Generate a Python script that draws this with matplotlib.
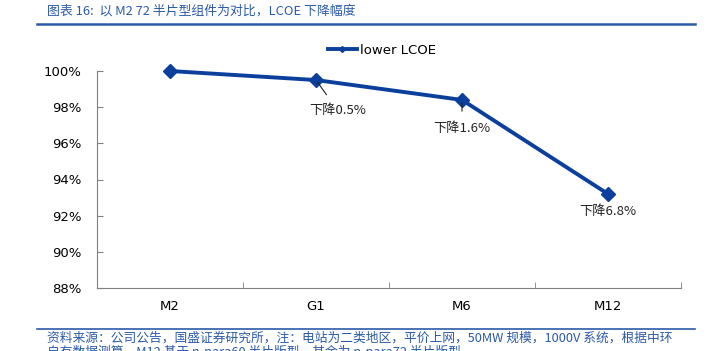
import matplotlib
matplotlib.use("Agg")
import matplotlib.pyplot as plt
from matplotlib.lines import Line2D
from matplotlib.ticker import FuncFormatter, FixedLocator

plt.rcParams['font.family'] = ['DejaVu Sans', 'Noto Sans CJK SC']

categories = ["M2", "G1", "M6", "M12"]
lcoe = [100.0, 99.5, 98.4, 93.2]
notes = {1: "下降0.5%", 2: "下降1.6%", 3: "下降6.8%"}

BLUE = "#0a3f9c"
TITLE_BLUE = "#2b5aa8"
CJK = ['Noto Sans CJK SC', 'DejaVu Sans']

fig = plt.figure(figsize=(7.11, 3.51), dpi=100)
ax = fig.add_axes([97 / 711, 1 - 288 / 351, 584 / 711, 217 / 351])

x = list(range(len(categories)))
ax.plot(x, lcoe, color=BLUE, lw=2.8, marker="D", ms=7, zorder=3, clip_on=False)

ax.set_xlim(-0.5, len(categories) - 0.5)
ax.set_ylim(88, 100)
ax.yaxis.set_major_locator(FixedLocator([88, 90, 92, 94, 96, 98, 100]))
ax.yaxis.set_major_formatter(FuncFormatter(lambda v, p: f"{v:.0f}%"))
ax.set_xticks(x)
ax.set_xticklabels(categories)
ax.xaxis.set_minor_locator(FixedLocator([i - 0.5 for i in range(len(categories) + 1)]))
ax.tick_params(axis="x", which="major", length=0, pad=9, labelsize=9.5)
ax.tick_params(axis="x", which="minor", length=4, direction="in", color="#808080")
ax.tick_params(axis="y", length=4, direction="in", color="#808080", labelsize=9.5, pad=11)
for s in ["top", "right"]:
    ax.spines[s].set_visible(False)
for s in ["left", "bottom"]:
    ax.spines[s].set_color("#808080")
    ax.spines[s].set_linewidth(0.8)

# annotations
ax.annotate(notes[1], xy=(x[1], lcoe[1]), xytext=(x[1] + 0.15, lcoe[1] - 1.7),
            ha="center", va="center", fontsize=9.5, color="#222222", family=CJK,
            arrowprops=dict(arrowstyle="-", color="#222222", lw=0.8, shrinkA=6, shrinkB=2))
ax.annotate(notes[2], xy=(x[2], lcoe[2]), xytext=(x[2], lcoe[2] - 1.6),
            ha="center", va="center", fontsize=9.5, color="#222222", family=CJK,
            arrowprops=dict(arrowstyle="-", color="#222222", lw=0.8, shrinkA=6, shrinkB=2))
ax.annotate(notes[3], xy=(x[3], lcoe[3]), xytext=(x[3], lcoe[3] - 0.95),
            ha="center", va="center", fontsize=9.5, color="#222222", family=CJK)

handle = Line2D([], [], color=BLUE, lw=2.8, marker="D", ms=3)
fig.legend([handle], ["lower LCOE"], loc="center", bbox_to_anchor=(382 / 711, 1 - 50 / 351),
           frameon=False, fontsize=9.5, handlelength=2.2, handletextpad=0.3)

# title and footnote
fig.text(47 / 711, 1 - 11 / 351, "图表 16:  以 M2 72 半片型组件为对比，LCOE 下降幅度",
         fontsize=9.3, color=TITLE_BLUE, style="italic", va="center", family=CJK)
fig.add_artist(Line2D([37 / 711, 695 / 711], [1 - 24 / 351, 1 - 24 / 351], color=TITLE_BLUE, lw=1.8))
fig.add_artist(Line2D([37 / 711, 695 / 711], [1 - 329 / 351, 1 - 329 / 351], color=TITLE_BLUE, lw=1.2))
fig.text(47 / 711, 1 - 338 / 351,
         "资料来源：公司公告，国盛证券研究所，注：电站为二类地区，平价上网，50MW 规模，1000V 系统，根据中环",
         fontsize=9.2, color=TITLE_BLUE, style="italic", va="center", family=CJK)
fig.text(47 / 711, 1 - 352 / 351,
         "自有数据测算，M12 基于 n-para60 半片版型，其余为 n-para72 半片版型",
         fontsize=9.2, color=TITLE_BLUE, style="italic", va="center", family=CJK)

fig.savefig("out.png", dpi=100)
